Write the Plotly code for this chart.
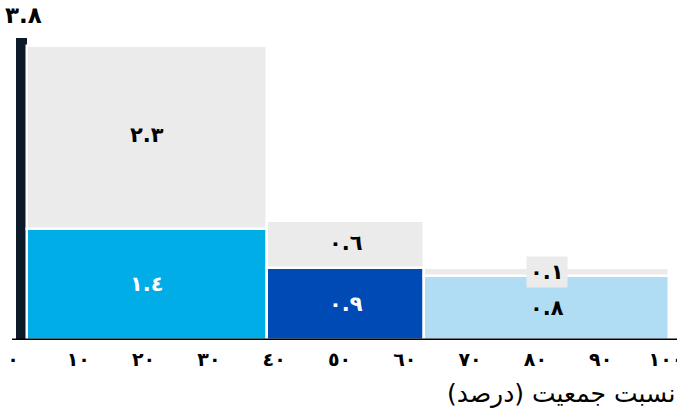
import plotly.graph_objects as go

# Population share of each group (percent of population, along x)
ref_width = 1.7
group_width = [36.8, 24.0, 37.5]
# Stacked values per group
base_values = [1.4, 0.9, 0.8]
top_values = [2.3, 0.6, 0.1]
total_value = 3.8
base_colors = ["#00ade6", "#004ab5", "#b0ddf3"]
top_color = "#ebebeb"
ref_color = "#0c1a29"
base_text_colors = ["white", "white", "black"]
x_ticks = list(range(0, 101, 10))
x_title = "نسبت جمعیت (درصد)"

AR = str.maketrans("0123456789", "٠١٢٣٤٥٦٧٨٩")


def ar(v):
    return str(v).translate(AR)


# Bar centres from cumulative widths
lefts = []
acc = ref_width
for w in group_width:
    lefts.append(acc)
    acc += w
centers = [l + w / 2 for l, w in zip(lefts, group_width)]

FONT = "DejaVu Sans"

fig = go.Figure()

# Total reference bar
fig.add_trace(go.Bar(
    x=[ref_width / 2], y=[total_value], width=[ref_width],
    marker=dict(color=ref_color, line=dict(width=0)),
    hoverinfo="skip",
))
# Lower segments
fig.add_trace(go.Bar(
    x=centers, y=base_values, width=group_width,
    marker=dict(color=base_colors, line=dict(color="white", width=2.5)),
    hoverinfo="skip",
))
# Upper segments
fig.add_trace(go.Bar(
    x=centers, y=top_values, base=base_values, width=group_width,
    marker=dict(color=top_color, line=dict(color="white", width=2.5)),
    hoverinfo="skip",
))

annotations = []
for c, b, t, tc in zip(centers, base_values, top_values, base_text_colors):
    annotations.append(dict(
        x=c, y=b / 2, text=ar(b), showarrow=False,
        font=dict(family=FONT, size=21, color=tc, weight="bold"),
    ))
    small = t < 0.3
    annotations.append(dict(
        x=c, y=b + t / 2, text=ar(t), showarrow=False,
        font=dict(family=FONT, size=21, color="black", weight="bold"),
        bgcolor=top_color if small else None, borderpad=3,
        yshift=0 if small else 2,
    ))

# Total value label above the reference bar
annotations.append(dict(
    x=ref_width / 2, y=total_value, text=ar(total_value), showarrow=False,
    yanchor="bottom", yshift=8, xshift=2,
    font=dict(family=FONT, size=23, color="black", weight="bold"),
))
# Axis title
annotations.append(dict(
    xref="paper", yref="paper", x=1.0, y=-0.172, xanchor="right", yanchor="middle",
    text="\u200f" + x_title + "\u200f", showarrow=False,
    font=dict(family=FONT, size=25, color="black"),
))

x_range = [-16 / 6.53, 100 + 8 / 6.53]

fig.update_layout(
    width=677, height=412,
    margin=dict(l=0, r=0, t=30, b=72, autoexpand=False),
    paper_bgcolor="white", plot_bgcolor="white",
    barmode="overlay", bargap=0, showlegend=False,
    annotations=annotations,
    xaxis=dict(
        range=x_range, showgrid=False, zeroline=False, showline=False,
        automargin=False,
        tickmode="array", tickvals=x_ticks, ticktext=[ar(v) for v in x_ticks],
        ticks="", ticklabelstandoff=6, ticklabelshift=-3,
        ticklabeloverflow="allow",
        tickfont=dict(family=FONT, size=19, color="black", weight="bold"),
    ),
    yaxis=dict(
        range=[0, 3.9], showgrid=False, zeroline=False, showline=False,
        automargin=False, showticklabels=False, ticks="",
    ),
    shapes=[dict(
        type="line", xref="x", yref="y", x0=-0.6, x1=x_range[1], y0=0, y1=0,
        line=dict(color="black", width=3), layer="above",
    )],
)

fig.write_html("out.html")
